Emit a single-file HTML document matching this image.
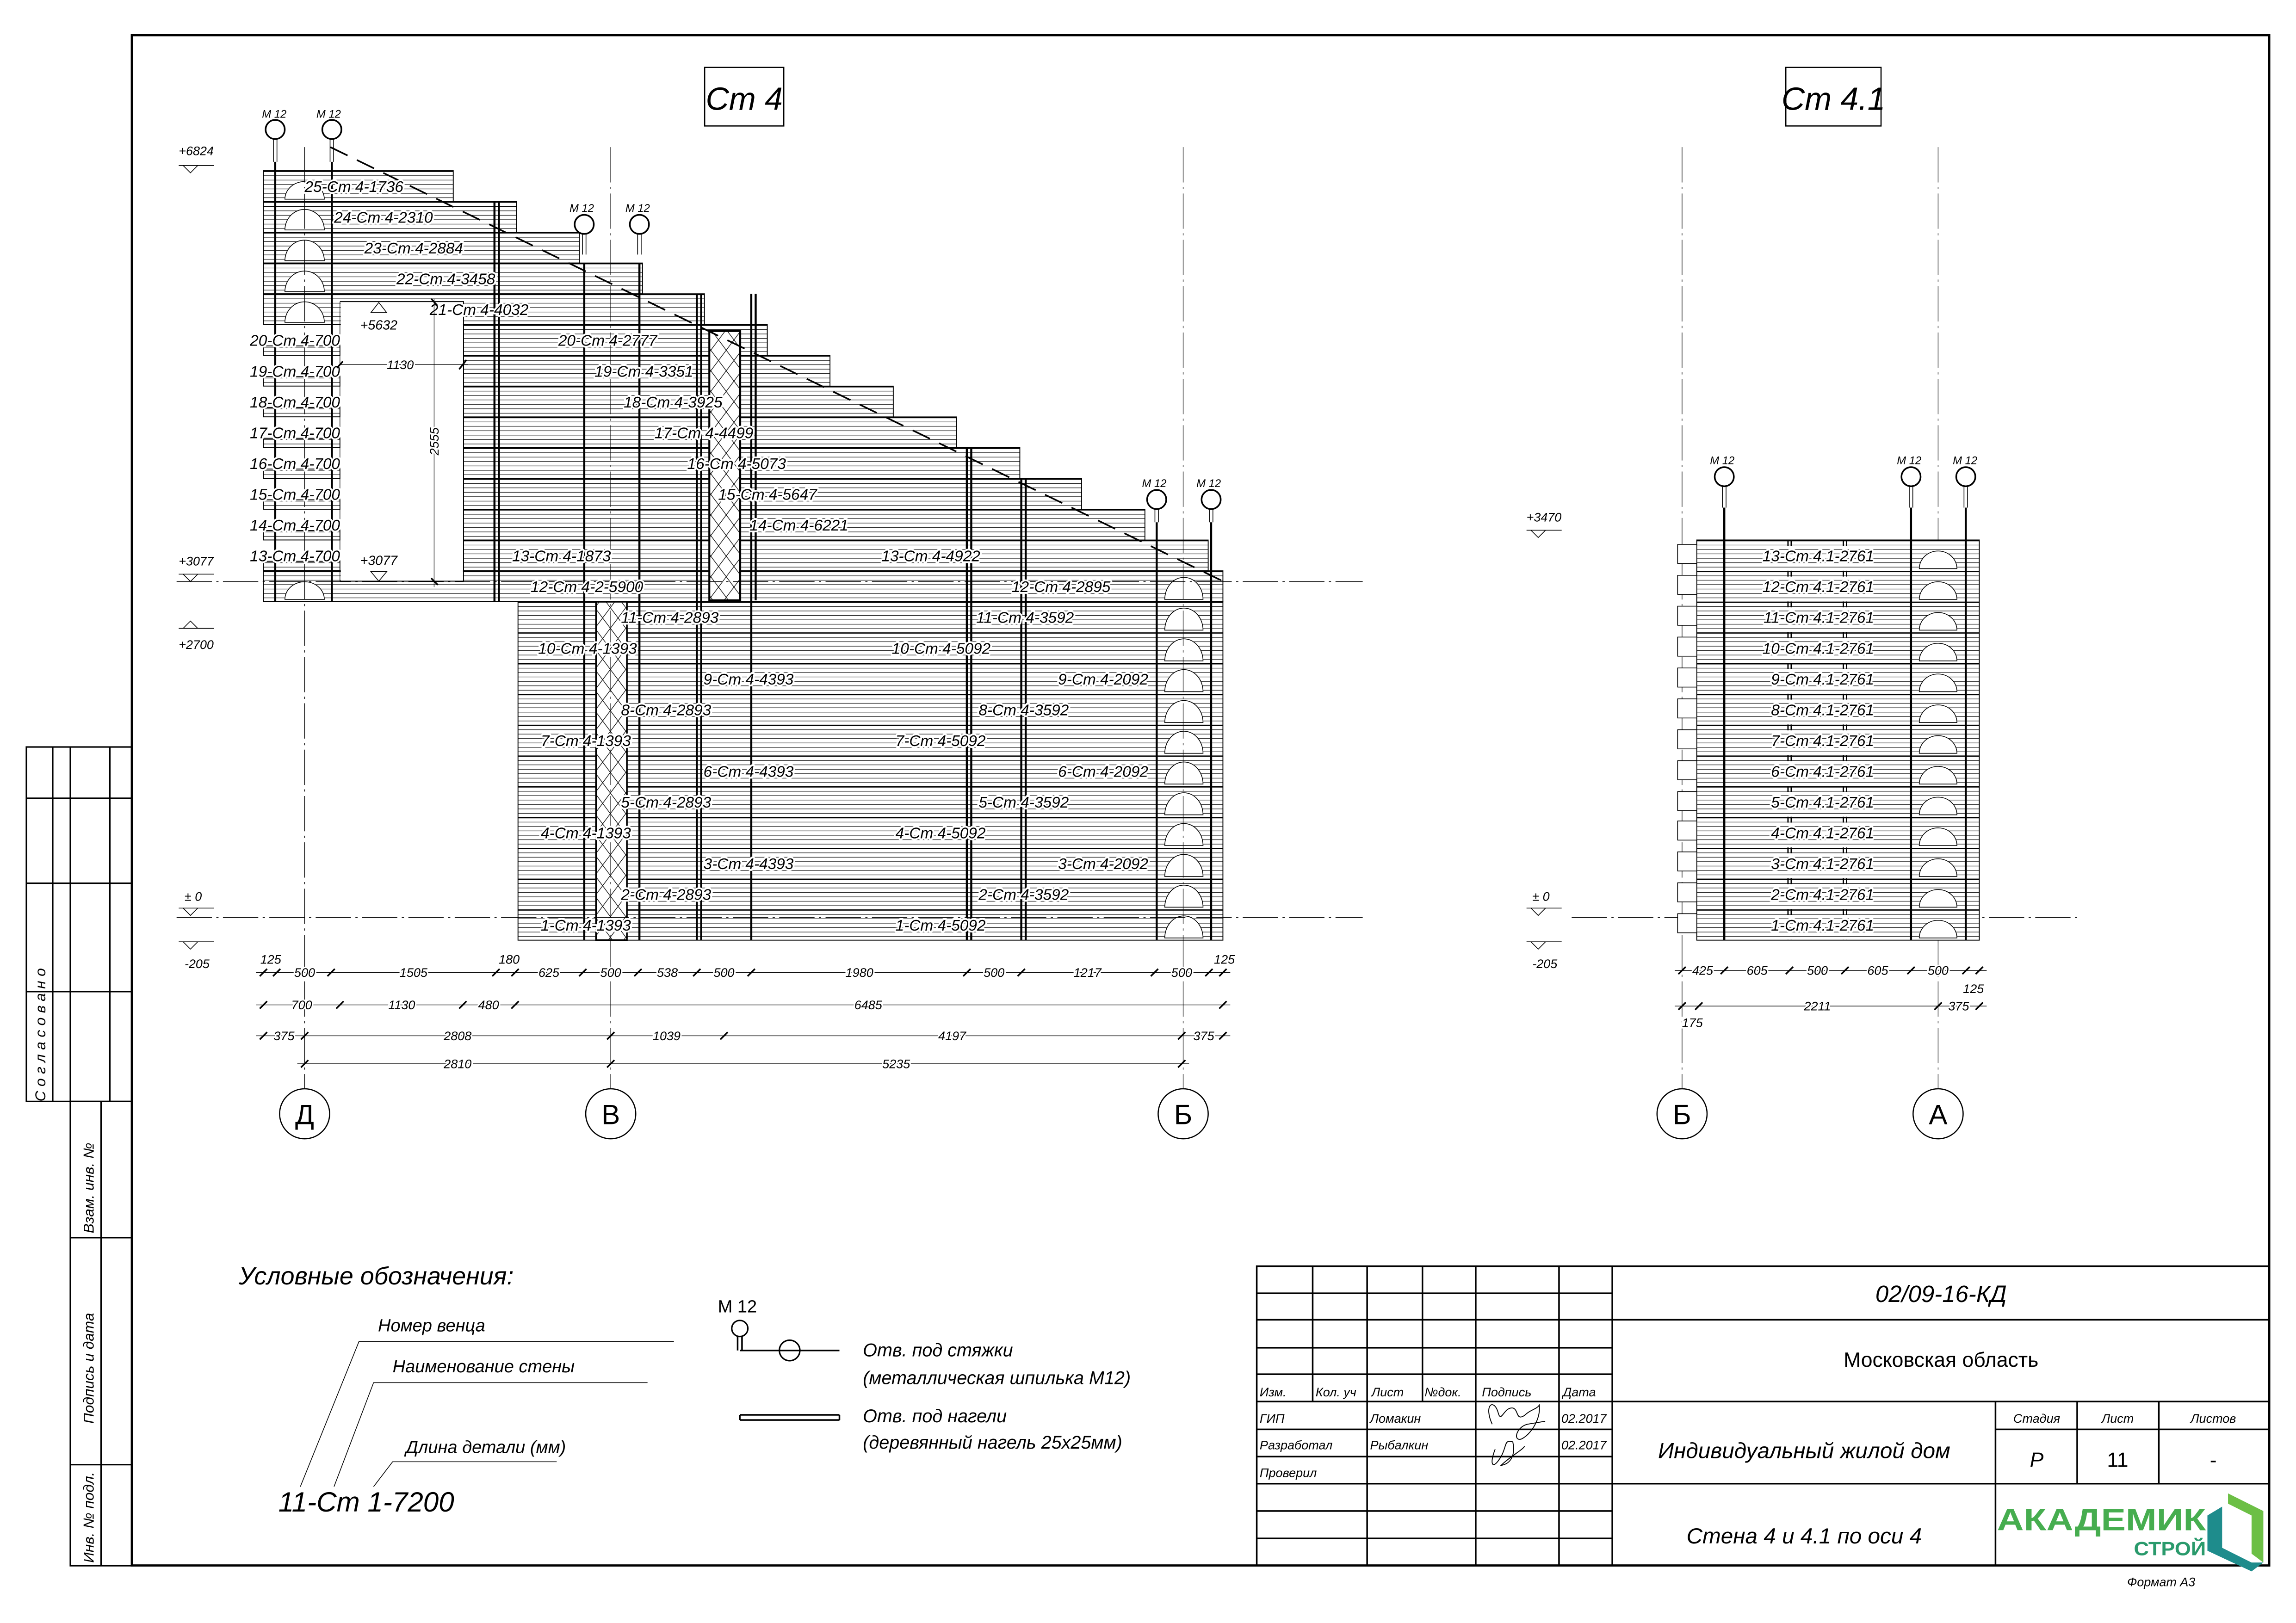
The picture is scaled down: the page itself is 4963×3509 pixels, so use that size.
<!DOCTYPE html>
<html><head><meta charset="utf-8"><style>
html,body{margin:0;padding:0;background:#fff;}
svg{display:block;}
text{font-family:"Liberation Sans","DejaVu Sans",sans-serif;font-style:italic;fill:#000;}
.lb{font-size:10.5px;paint-order:stroke;stroke:#fff;stroke-width:2.4px;stroke-linejoin:round;}
.dm{font-size:8.5px;paint-order:stroke;stroke:#fff;stroke-width:2px;}
.ax{stroke:#000;stroke-width:.4;stroke-dasharray:24 3 1.5 3;fill:none;}
.tk{stroke:#000;stroke-width:1.1;}
.dl{stroke:#000;stroke-width:.4;}
.th{stroke:#000;stroke-width:1.4;}
.md{stroke:#000;stroke-width:.5;}
.w{fill:url(#h);stroke:#000;stroke-width:.6;}
.ar{fill:#fff;stroke:#000;stroke-width:.5;}
.tb{stroke:#000;stroke-width:1.1;fill:none;}
.t9{font-size:9px;}
</style></head><body>
<svg width="4963" height="3509" viewBox="0 0 1560.2 1103.1" xmlns="http://www.w3.org/2000/svg">
<defs>
<pattern id="h" patternUnits="userSpaceOnUse" width="20" height="20.92" patternTransform="translate(0,116)">
<rect width="20" height="20.92" fill="#fff"/>
<line x1="0" y1="0.4" x2="20" y2="0.4" stroke="#000" stroke-width=".9"/>
<line x1="0" y1="3.4" x2="20" y2="3.4" stroke="#000" stroke-width=".35"/>
<line x1="0" y1="6.4" x2="20" y2="6.4" stroke="#000" stroke-width=".35"/>
<line x1="0" y1="9.4" x2="20" y2="9.4" stroke="#000" stroke-width=".35"/>
<line x1="0" y1="12.4" x2="20" y2="12.4" stroke="#000" stroke-width=".35"/>
<line x1="0" y1="15.4" x2="20" y2="15.4" stroke="#000" stroke-width=".35"/>
<line x1="0" y1="18.4" x2="20" y2="18.4" stroke="#000" stroke-width=".35"/>
</pattern>
<pattern id="x" patternUnits="userSpaceOnUse" width="10.5" height="14">
<rect width="10.5" height="14" fill="#fff"/>
<path d="M0 0L10.5 14M10.5 0L0 14" stroke="#000" stroke-width=".4"/>
</pattern>
</defs>
<rect width="1560.2" height="1103.1" fill="#fff"/>

<!-- frame -->
<rect x="89.6" y="23.9" width="1452.4" height="1040.1" fill="none" stroke="#000" stroke-width="1.5"/>

<!-- ===== Ст4 walls ===== -->
<rect class="w" x="179" y="116" width="129" height="20.92"/>
<rect class="w" x="179" y="136.92" width="172" height="20.92"/>
<rect class="w" x="179" y="157.84" width="214.7" height="20.92"/>
<rect class="w" x="179" y="178.76" width="257.6" height="20.92"/>
<rect class="w" x="179" y="199.68" width="299.7" height="20.92"/>
<rect class="w" x="315" y="220.6" width="206.4" height="20.92"/>
<rect class="w" x="315" y="241.52" width="249" height="20.92"/>
<rect class="w" x="315" y="262.44" width="292" height="20.92"/>
<rect class="w" x="315" y="283.36" width="335" height="20.92"/>
<rect class="w" x="315" y="304.28" width="378" height="20.92"/>
<rect class="w" x="315" y="325.2" width="420" height="20.92"/>
<rect class="w" x="315" y="346.12" width="463" height="20.92"/>
<rect class="w" x="315" y="367.04" width="506" height="20.92"/>
<rect class="w" x="179" y="387.96" width="652" height="20.92"/>
<rect class="w" x="352" y="408.88" width="479" height="230.12"/>
<!-- left column bars rows 13-20 -->
<rect class="w" x="179" y="235.1" width="52" height="6.4"/>
<rect class="w" x="179" y="256" width="52" height="6.4"/>
<rect class="w" x="179" y="276.9" width="52" height="6.4"/>
<rect class="w" x="179" y="297.9" width="52" height="6.4"/>
<rect class="w" x="179" y="318.8" width="52" height="6.4"/>
<rect class="w" x="179" y="339.7" width="52" height="6.4"/>
<rect class="w" x="179" y="360.6" width="52" height="6.4"/>
<rect class="w" x="179" y="381.5" width="52" height="6.4"/>
<!-- opening -->
<rect x="231.6" y="205" width="83" height="190" fill="#fff"/>
<path d="M231 205H315V395M231 395H315" stroke="#000" stroke-width=".6" fill="none"/>
<line x1="231" y1="205" x2="231" y2="395" stroke="#000" stroke-width=".4"/>

<!-- arches left column -->
<path class="ar" d="M193.6 135.4A13.4 12 0 0 1 220.4 135.4Z"/>
<path class="ar" d="M193.6 156.3A13.4 14 0 0 1 220.4 156.3Z"/>
<path class="ar" d="M193.6 177.2A13.4 14 0 0 1 220.4 177.2Z"/>
<path class="ar" d="M193.6 198.2A13.4 14 0 0 1 220.4 198.2Z"/>
<path class="ar" d="M193.6 219.1A13.4 14 0 0 1 220.4 219.1Z"/>
<path class="ar" d="M193.6 407.4A13.4 12 0 0 1 220.4 407.4Z"/>
<!-- arches Б column -->
<g class="ar">
<path d="M791.5 637.5A13 15 0 0 1 817.5 637.5Z"/>
<path d="M791.5 616.6A13 15 0 0 1 817.5 616.6Z"/>
<path d="M791.5 595.7A13 15 0 0 1 817.5 595.7Z"/>
<path d="M791.5 574.7A13 15 0 0 1 817.5 574.7Z"/>
<path d="M791.5 553.8A13 15 0 0 1 817.5 553.8Z"/>
<path d="M791.5 532.9A13 15 0 0 1 817.5 532.9Z"/>
<path d="M791.5 512A13 15 0 0 1 817.5 512Z"/>
<path d="M791.5 491.1A13 15 0 0 1 817.5 491.1Z"/>
<path d="M791.5 470.1A13 15 0 0 1 817.5 470.1Z"/>
<path d="M791.5 449.2A13 15 0 0 1 817.5 449.2Z"/>
<path d="M791.5 428.3A13 15 0 0 1 817.5 428.3Z"/>
<path d="M791.5 407.4A13 15 0 0 1 817.5 407.4Z"/>
</g>

<!-- hatched columns -->
<rect x="482" y="225" width="21" height="183" fill="url(#x)" stroke="#000" stroke-width="1.3"/>
<rect x="405" y="409" width="21" height="230" fill="url(#x)" stroke="#000" stroke-width="1.1"/>

<!-- thick verticals Ст4 -->
<g class="th">
<line x1="187" y1="110" x2="187" y2="409"/>
<line x1="225.5" y1="110" x2="225.5" y2="409"/>
<line x1="336" y1="137" x2="336" y2="409"/>
<line x1="339" y1="137" x2="339" y2="409"/>
<line x1="397" y1="178.6" x2="397" y2="639"/>
<line x1="434.5" y1="178.6" x2="434.5" y2="639"/>
<line x1="473.5" y1="199.7" x2="473.5" y2="639"/>
<line x1="476.5" y1="199.7" x2="476.5" y2="639"/>
<line x1="510.5" y1="199.7" x2="510.5" y2="639"/>
<line x1="513.5" y1="199.7" x2="513.5" y2="408"/>
<line x1="657" y1="304.3" x2="657" y2="639"/>
<line x1="660" y1="304.3" x2="660" y2="639"/>
<line x1="694" y1="325.2" x2="694" y2="639"/>
<line x1="697" y1="325.2" x2="697" y2="639"/>
<line x1="786" y1="355" x2="786" y2="639"/>
<line x1="823" y1="355" x2="823" y2="639"/>
</g>

<!-- M12 markers Ст4 -->
<g fill="#fff" stroke="#000" stroke-width="1.1">
<circle cx="187" cy="88" r="6.5"/><circle cx="225.5" cy="88" r="6.5"/>
<circle cx="397" cy="152.5" r="6.5"/><circle cx="434.5" cy="152.5" r="6.5"/>
<circle cx="786" cy="339.5" r="6.5"/><circle cx="823" cy="339.5" r="6.5"/>
<circle cx="1171.7" cy="324" r="6.5"/><circle cx="1298.6" cy="324" r="6.5"/><circle cx="1335.8" cy="324" r="6.5"/>
</g>
<g class="md">
<path d="M185.8 94.5V110M188.2 94.5V110M224.3 94.5V110M226.7 94.5V110"/>
<path d="M395.8 159V173M398.2 159V173M433.3 159V173M435.7 159V173"/>
<path d="M784.8 346V355M787.2 346V355M821.8 346V355M824.2 346V355"/>
<path d="M1170.5 330.5V345M1172.9 330.5V345M1297.4 330.5V345M1299.8 330.5V345M1334.6 330.5V345M1337 330.5V345"/>
</g>
<g font-size="7.5">
<text x="178" y="80">M 12</text><text x="215" y="80">M 12</text>
<text x="387" y="144">M 12</text><text x="425" y="144">M 12</text>
<text x="776" y="331">M 12</text><text x="813" y="331">M 12</text>
<text x="1162" y="315.5">M 12</text><text x="1289" y="315.5">M 12</text><text x="1327" y="315.5">M 12</text>
</g>

<!-- diagonal dashed -->
<line x1="224.5" y1="100" x2="833" y2="396" stroke="#000" stroke-width="1.1" stroke-dasharray="13 7"/>

<!-- axes -->
<line class="ax" x1="207" y1="100" x2="207" y2="742"/>
<line class="ax" x1="415" y1="100" x2="415" y2="742"/>
<line class="ax" x1="804" y1="100" x2="804" y2="742"/>
<line class="ax" x1="1143" y1="100" x2="1143" y2="742"/>
<line class="ax" x1="1317" y1="100" x2="1317" y2="742"/>
<line class="ax" x1="120" y1="395.3" x2="926" y2="395.3"/>
<line class="ax" x1="120" y1="623.6" x2="926" y2="623.6"/>
<line class="ax" x1="1068" y1="623.6" x2="1413" y2="623.6"/>

<!-- Ст4 labels -->
<g class="lb">
<text x="207" y="130.5">25-Ст 4-1736</text>
<text x="227" y="151.4">24-Ст 4-2310</text>
<text x="247.6" y="172.3">23-Ст 4-2884</text>
<text x="269.4" y="193.2">22-Ст 4-3458</text>
<text x="292" y="214.1">21-Ст 4-4032</text>
<text x="169.8" y="235">20-Ст 4-700</text><text x="379.4" y="235">20-Ст 4-2777</text>
<text x="169.8" y="256">19-Ст 4-700</text><text x="404" y="256">19-Ст 4-3351</text>
<text x="169.8" y="276.9">18-Ст 4-700</text><text x="423.8" y="276.9">18-Ст 4-3925</text>
<text x="169.8" y="297.8">17-Ст 4-700</text><text x="444.8" y="297.8">17-Ст 4-4499</text>
<text x="169.8" y="318.7">16-Ст 4-700</text><text x="467" y="318.7">16-Ст 4-5073</text>
<text x="169.8" y="339.7">15-Ст 4-700</text><text x="488" y="339.7">15-Ст 4-5647</text>
<text x="169.8" y="360.6">14-Ст 4-700</text><text x="509.4" y="360.6">14-Ст 4-6221</text>
<text x="169.8" y="381.5">13-Ст 4-700</text><text x="348" y="381.5">13-Ст 4-1873</text><text x="599" y="381.5">13-Ст 4-4922</text>
<text x="360.6" y="402.4">12-Ст 4-2-5900</text><text x="687.5" y="402.4">12-Ст 4-2895</text>
<text x="422" y="423.3">11-Ст 4-2893</text><text x="663.4" y="423.3">11-Ст 4-3592</text>
<text x="365.7" y="444.3">10-Ст 4-1393</text><text x="606" y="444.3">10-Ст 4-5092</text>
<text x="478" y="465.2">9-Ст 4-4393</text><text x="719" y="465.2">9-Ст 4-2092</text>
<text x="422" y="486.1">8-Ст 4-2893</text><text x="665" y="486.1">8-Ст 4-3592</text>
<text x="367.5" y="507">7-Ст 4-1393</text><text x="608.5" y="507">7-Ст 4-5092</text>
<text x="478" y="527.9">6-Ст 4-4393</text><text x="719" y="527.9">6-Ст 4-2092</text>
<text x="422" y="548.9">5-Ст 4-2893</text><text x="665" y="548.9">5-Ст 4-3592</text>
<text x="367.5" y="569.8">4-Ст 4-1393</text><text x="608.5" y="569.8">4-Ст 4-5092</text>
<text x="478" y="590.7">3-Ст 4-4393</text><text x="719" y="590.7">3-Ст 4-2092</text>
<text x="422" y="611.6">2-Ст 4-2893</text><text x="665" y="611.6">2-Ст 4-3592</text>
<text x="367.5" y="632.5">1-Ст 4-1393</text><text x="608.5" y="632.5">1-Ст 4-5092</text>
</g>

<!-- opening dims -->
<line class="dl" x1="231" y1="247.8" x2="318" y2="247.8"/>
<line class="tk" x1="229" y1="250" x2="233" y2="245.6"/><line class="tk" x1="312" y1="251" x2="317" y2="244.6"/>
<text class="dm" x="272" y="250.8" text-anchor="middle">1130</text>
<line class="dl" x1="295" y1="203" x2="295" y2="399"/>
<line class="tk" x1="293" y1="203" x2="297" y2="207.5"/><line class="tk" x1="293" y1="393" x2="297.5" y2="397.5"/>
<text class="dm" transform="translate(298,300) rotate(-90)" text-anchor="middle">2555</text>
<!-- +5632 / +3077 inner -->
<path d="M252 212.5L257.4 205.6L262.8 212.5Z" fill="#fff" stroke="#000" stroke-width=".5"/>
<text class="t9" x="257.4" y="224" text-anchor="middle" font-size="8.5">+5632</text>
<path d="M252 388.5H262.8L257.4 395Z" fill="#fff" stroke="#000" stroke-width=".5"/>
<text class="t9" x="257.4" y="384" text-anchor="middle" font-size="8.5">+3077</text>

<!-- ===== Ст4.1 ===== -->
<rect class="w" x="1153" y="367" width="192" height="272"/>
<g fill="#fff" stroke="#000" stroke-width=".5">
<rect x="1140" y="370" width="13" height="13"/><rect x="1140" y="391" width="13" height="13"/>
<rect x="1140" y="412" width="13" height="13"/><rect x="1140" y="433" width="13" height="13"/>
<rect x="1140" y="454" width="13" height="13"/><rect x="1140" y="475" width="13" height="13"/>
<rect x="1140" y="496" width="13" height="13"/><rect x="1140" y="517" width="13" height="13"/>
<rect x="1140" y="538" width="13" height="13"/><rect x="1140" y="558" width="13" height="13"/>
<rect x="1140" y="579" width="13" height="13"/><rect x="1140" y="600" width="13" height="13"/>
<rect x="1140" y="621" width="13" height="13"/>
</g>
<g class="ar">
<path d="M1304.2 637.5A12.8 12 0 0 1 1329.8 637.5Z"/>
<path d="M1304.2 616.6A12.8 12 0 0 1 1329.8 616.6Z"/>
<path d="M1304.2 595.7A12.8 12 0 0 1 1329.8 595.7Z"/>
<path d="M1304.2 574.7A12.8 12 0 0 1 1329.8 574.7Z"/>
<path d="M1304.2 553.8A12.8 12 0 0 1 1329.8 553.8Z"/>
<path d="M1304.2 532.9A12.8 12 0 0 1 1329.8 532.9Z"/>
<path d="M1304.2 512A12.8 12 0 0 1 1329.8 512Z"/>
<path d="M1304.2 491.1A12.8 12 0 0 1 1329.8 491.1Z"/>
<path d="M1304.2 470.1A12.8 12 0 0 1 1329.8 470.1Z"/>
<path d="M1304.2 449.2A12.8 12 0 0 1 1329.8 449.2Z"/>
<path d="M1304.2 428.3A12.8 12 0 0 1 1329.8 428.3Z"/>
<path d="M1304.2 407.4A12.8 12 0 0 1 1329.8 407.4Z"/>
<path d="M1304.2 386.5A12.8 12 0 0 1 1329.8 386.5Z"/>
</g>
<g class="th">
<line x1="1171.7" y1="345" x2="1171.7" y2="639"/>
<line x1="1298.6" y1="345" x2="1298.6" y2="639"/>
<line x1="1335.8" y1="345" x2="1335.8" y2="639"/>
</g>
<g stroke="#000" stroke-width=".9">
<line x1="1215" y1="367" x2="1215" y2="639" stroke-dasharray="4 16.9"/>
<line x1="1217.2" y1="367" x2="1217.2" y2="639" stroke-dasharray="4 16.9"/>
<line x1="1252.6" y1="367" x2="1252.6" y2="639" stroke-dasharray="4 16.9"/>
<line x1="1254.8" y1="367" x2="1254.8" y2="639" stroke-dasharray="4 16.9"/>
</g>
<g class="lb" text-anchor="end">
<text x="1273.5" y="381.5">13-Ст 4.1-2761</text>
<text x="1273.5" y="402.4">12-Ст 4.1-2761</text>
<text x="1273.5" y="423.3">11-Ст 4.1-2761</text>
<text x="1273.5" y="444.3">10-Ст 4.1-2761</text>
<text x="1273.5" y="465.2">9-Ст 4.1-2761</text>
<text x="1273.5" y="486.1">8-Ст 4.1-2761</text>
<text x="1273.5" y="507">7-Ст 4.1-2761</text>
<text x="1273.5" y="527.9">6-Ст 4.1-2761</text>
<text x="1273.5" y="548.9">5-Ст 4.1-2761</text>
<text x="1273.5" y="569.8">4-Ст 4.1-2761</text>
<text x="1273.5" y="590.7">3-Ст 4.1-2761</text>
<text x="1273.5" y="611.6">2-Ст 4.1-2761</text>
<text x="1273.5" y="632.5">1-Ст 4.1-2761</text>
</g>

<!-- ===== dimensions Ст4 ===== -->
<g class="dl">
<line x1="174" y1="661" x2="836" y2="661"/>
<line x1="174" y1="683" x2="836" y2="683"/>
<line x1="174" y1="704" x2="836" y2="704"/>
<line x1="202" y1="723" x2="808" y2="723"/>
<line x1="1138" y1="659.6" x2="1350" y2="659.6"/>
<line x1="1138" y1="683.8" x2="1350" y2="683.8"/>
</g>
<g class="tk">
<path d="M176.5 663.5L181.5 658.5M185.5 663.5L190.5 658.5M222.5 663.5L227.5 658.5M334.5 663.5L339.5 658.5M347.5 663.5L352.5 658.5M393.5 663.5L398.5 658.5M431 663.5L436 658.5M471 663.5L476 658.5M508 663.5L513 658.5M654.5 663.5L659.5 658.5M691.5 663.5L696.5 658.5M782 663.5L787 658.5M819 663.5L824 658.5M828.5 663.5L833.5 658.5"/>
<path d="M176.5 685.5L181.5 680.5M228.5 685.5L233.5 680.5M312 685.5L317 680.5M347.5 685.5L352.5 680.5M828.5 685.5L833.5 680.5"/>
<path d="M176.5 706.5L181.5 701.5M204.5 706.5L209.5 701.5M412.5 706.5L417.5 701.5M489.5 706.5L494.5 701.5M800.5 706.5L805.5 701.5M828.5 706.5L833.5 701.5"/>
<path d="M204.5 725.5L209.5 720.5M412.5 725.5L417.5 720.5M800.5 725.5L805.5 720.5"/>
<path d="M1140.5 662.1L1145.5 657.1M1169.2 662.1L1174.2 657.1M1213.5 662.1L1218.5 657.1M1251.2 662.1L1256.2 657.1M1296.1 662.1L1301.1 657.1M1333.5 662.1L1338.5 657.1M1342.5 662.1L1347.5 657.1"/>
<path d="M1140.5 686.3L1145.5 681.3M1151.9 686.3L1156.9 681.3M1314.5 686.3L1319.5 681.3M1342.5 686.3L1347.5 681.3"/>
</g>
<g class="dm" text-anchor="middle">
<text x="184" y="655">125</text><text x="207" y="664">500</text><text x="281" y="664">1505</text>
<text x="346" y="655">180</text><text x="373" y="664">625</text><text x="415" y="664">500</text>
<text x="453.5" y="664">538</text><text x="492" y="664">500</text><text x="584" y="664">1980</text>
<text x="675.5" y="664">500</text><text x="739" y="664">1217</text><text x="803" y="664">500</text>
<text x="832" y="655">125</text>
<text x="205" y="686">700</text><text x="273" y="686">1130</text><text x="332" y="686">480</text><text x="590" y="686">6485</text>
<text x="193" y="707">375</text><text x="311" y="707">2808</text><text x="453" y="707">1039</text><text x="647" y="707">4197</text><text x="818" y="707">375</text>
<text x="311" y="726">2810</text><text x="609" y="726">5235</text>
<text x="1157" y="662.6">425</text><text x="1194" y="662.6">605</text><text x="1235" y="662.6">500</text>
<text x="1276" y="662.6">605</text><text x="1317" y="662.6">500</text><text x="1341" y="675">125</text>
<text x="1150" y="698">175</text><text x="1235" y="686.8">2211</text><text x="1331" y="686.8">375</text>
</g>

<!-- axis circles -->
<g fill="#fff" stroke="#000" stroke-width=".8">
<circle cx="207" cy="757" r="17"/><circle cx="415" cy="757" r="17"/><circle cx="804" cy="757" r="17"/>
<circle cx="1143" cy="757" r="17"/><circle cx="1317" cy="757" r="17"/>
</g>
<g font-size="19" text-anchor="middle" font-style="normal">
<text x="207" y="764" style="font-style:normal">Д</text><text x="415" y="764" style="font-style:normal">В</text>
<text x="804" y="764" style="font-style:normal">Б</text><text x="1143" y="764" style="font-style:normal">Б</text>
<text x="1317" y="764" style="font-style:normal">А</text>
</g>

<!-- ===== items in thumbnail scale ===== -->
<g transform="scale(0.9955)">
<!-- titles -->
<rect x="481" y="46" width="54" height="40" fill="none" stroke="#000" stroke-width=".8"/>
<text x="508" y="75" font-size="22" text-anchor="middle">Ст 4</text>
<rect x="1219" y="46" width="65" height="40" fill="none" stroke="#000" stroke-width=".8"/>
<text x="1251.5" y="75" font-size="22" text-anchor="middle">Ст 4.1</text>

<!-- level marks -->
<g stroke="#000" stroke-width=".5" fill="#fff">
<path d="M122 113H146M125 113L130 118L135 113"/>
<path d="M122 392H146M125 392L130 397L135 392"/>
<path d="M122 429H146M125 429L130 424L135 429"/>
<path d="M122 620H146M125 620L130 625L135 620"/>
<path d="M122 643H146M125 643L130 648L135 643"/>
<path d="M1042 362H1066M1045 362L1050 367L1055 362"/>
<path d="M1042 620H1066M1045 620L1050 625L1055 620"/>
<path d="M1042 643H1066M1045 643L1050 648L1055 643"/>
</g>
<g font-size="8.5">
<text x="122" y="106">+6824</text>
<text x="122" y="386">+3077</text>
<text x="122" y="443">+2700</text>
<text x="126" y="615">± 0</text>
<text x="126" y="661">-205</text>
<text x="1042" y="356">+3470</text>
<text x="1046" y="615">± 0</text>
<text x="1046" y="661">-205</text>
</g>

<!-- left strip -->
<g stroke="#000" stroke-width="1" fill="none">
<rect x="18" y="510" width="72" height="242"/>
<path d="M36 510V752M48 510V752M75 510V752M18 545H90M18 603H90M18 677H90"/>
<rect x="48" y="752" width="42" height="317"/>
<path d="M69 752V1069M48 845H90M48 1000H90"/>
</g>
<g font-size="10">
<text transform="translate(31,752) rotate(-90)" letter-spacing="3">Согласовано</text>
<text transform="translate(64,842) rotate(-90)">Взам. инв. №</text>
<text transform="translate(64,972) rotate(-90)">Подпись и дата</text>
<text transform="translate(64,1067) rotate(-90)">Инв. № подл.</text>
</g>

<!-- legend -->
<text x="163" y="877" font-size="17">Условные обозначения:</text>
<g font-size="12">
<text x="258" y="909">Номер венца</text>
<text x="268" y="937">Наименование стены</text>
<text x="277" y="992">Длина детали (мм)</text>
</g>
<g stroke="#000" stroke-width=".5" fill="none">
<path d="M460 916H245L205 1015M442 944H255L228 1015M380 998H268L255 1015"/>
</g>
<text x="190" y="1032" font-size="19">11-Ст 1-7200</text>
<text x="490" y="896" font-size="12" font-style="normal" style="font-style:normal">M 12</text>
<circle cx="505" cy="907" r="5.5" fill="#fff" stroke="#000" stroke-width="1"/>
<path d="M503.5 912.5V922M506.5 912.5V922M505 922H573" stroke="#000" stroke-width="1.1" fill="none"/>
<circle cx="539" cy="922" r="7" fill="none" stroke="#000" stroke-width="1"/>
<path d="M505 966H573M505 969.5H573M505 966V969.5M573 966V969.5" stroke="#000" stroke-width="1.1"/>
<g font-size="12.5">
<text x="589" y="926">Отв. под стяжки</text>
<text x="589" y="945">(металлическая шпилька М12)</text>
<text x="589" y="971">Отв. под нагели</text>
<text x="589" y="989">(деревянный нагель 25х25мм)</text>
</g>
<text x="1452" y="1083" font-size="8.5">Формат А3</text>
</g>

<!-- ===== title block ===== -->
<g class="tb">
<rect x="854" y="860.6" width="688" height="203.4"/>
<path d="M854 879H1095.6M854 897H1095.6M854 916H1095.6M854 934H1095.6M854 952.6H1542M854 971.5H1095.6M854 990H1095.6M854 1008.4H1542M854 1027H1095.6M854 1045.6H1095.6"/>
<path d="M1095.6 897H1542M1356 971.5H1542"/>
<path d="M892 860.6V952.6M929 860.6V1064M966.6 860.6V952.6M1002.8 860.6V1064M1059.4 860.6V1064M1095.6 860.6V1064"/>
<path d="M1356 952.6V1064M1411.5 952.6V1008.4M1467 952.6V1008.4"/>
</g>
<g font-size="8.5">
<text x="856" y="949">Изм.</text><text x="894" y="949">Кол. уч</text><text x="932" y="949">Лист</text>
<text x="968" y="949">№док.</text><text x="1007" y="949">Подпись</text><text x="1062" y="949">Дата</text>
<text x="856" y="967">ГИП</text><text x="931" y="967">Ломакин</text><text x="1061" y="967">02.2017</text>
<text x="856" y="985">Разработал</text><text x="931" y="985">Рыбалкин</text><text x="1061" y="985">02.2017</text>
<text x="856" y="1004">Проверил</text>
<text x="1384" y="967" text-anchor="middle">Стадия</text><text x="1439" y="967" text-anchor="middle">Лист</text><text x="1504" y="967" text-anchor="middle">Листов</text>
</g>
<g fill="none" stroke="#000" stroke-width=".6">
<path d="M1014 968C1008 955 1015 950 1018 960C1020 968 1022 956 1028 957C1032 958 1030 966 1036 962C1040 958 1044 958 1046 955C1047 965 1040 975 1034 978C1028 980 1030 970 1038 968L1050 966"/>
<path d="M1016 985C1012 995 1014 1000 1020 990C1024 983 1022 978 1028 980C1030 990 1026 995 1020 996C1026 990 1034 986 1036 983"/>
</g>
<text x="1319" y="885" font-size="16" text-anchor="middle">02/09-16-КД</text>
<text x="1319" y="929" font-size="14" text-anchor="middle" style="font-style:normal">Московская область</text>
<text x="1226" y="991" font-size="15" text-anchor="middle">Индивидуальный жилой дом</text>
<text x="1384" y="997" font-size="14" text-anchor="middle">Р</text>
<text x="1439" y="997" font-size="14" text-anchor="middle" style="font-style:normal">11</text>
<text x="1504" y="997" font-size="14" text-anchor="middle" style="font-style:normal">-</text>
<text x="1226" y="1049" font-size="15" text-anchor="middle">Стена 4 и 4.1 по оси 4</text>
<!-- logo -->
<text x="1357" y="1040" font-size="21" font-weight="bold" fill="#4caf50" style="font-style:normal;fill:#46ad4f" textLength="142" lengthAdjust="spacingAndGlyphs">АКАДЕМИК</text>
<text x="1450" y="1057" font-size="13" font-weight="bold" style="font-style:normal;fill:#2a9a6c" textLength="49" lengthAdjust="spacingAndGlyphs">СТРОЙ</text>
<path d="M1514 1015L1538 1027L1538 1062L1530 1056L1530 1030L1514 1022Z" fill="#6cbf45"/>
<path d="M1500 1030L1510 1024L1510 1052L1530 1062L1538 1062L1530 1068L1500 1054Z" fill="#1e8c8c"/>
</svg>
</body></html>
